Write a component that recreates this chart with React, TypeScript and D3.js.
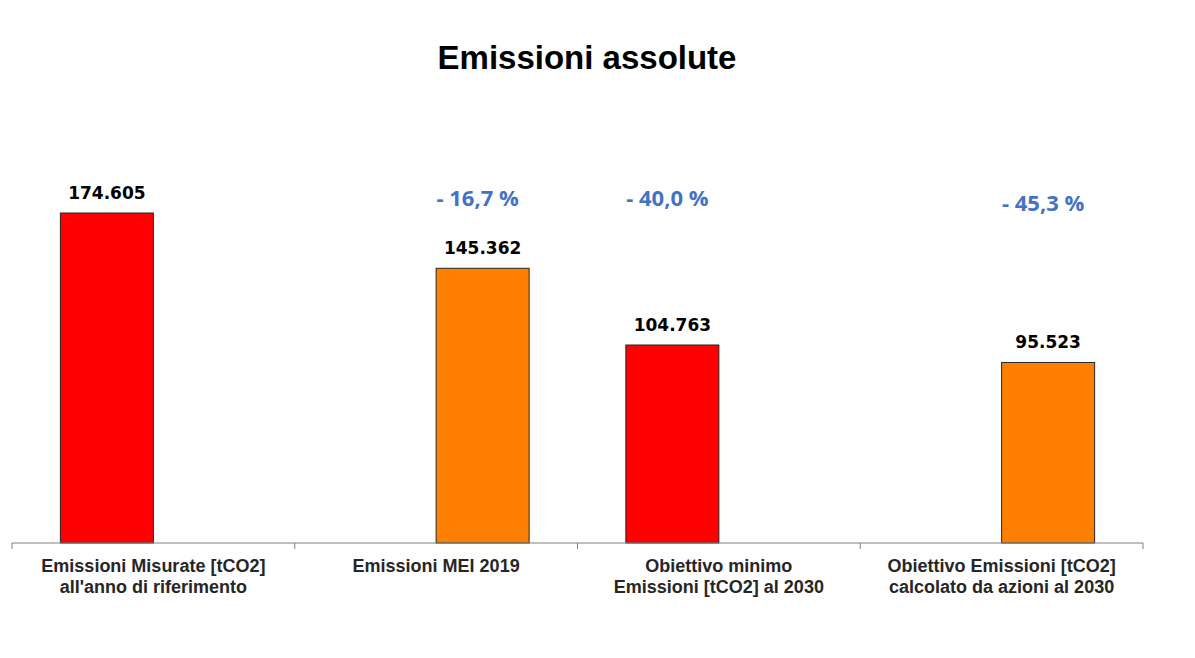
import React from "react";
import * as d3 from "d3";

const categories = [
  ["Emissioni Misurate [tCO2]", "all'anno di riferimento"],
  ["Emissioni MEI 2019"],
  ["Obiettivo minimo", "Emissioni [tCO2] al 2030"],
  ["Obiettivo Emissioni [tCO2]", "calcolato da azioni al 2030"],
];
const categoryKeys = ["c1", "c2", "c3", "c4"];
const seriesKeys = ["red", "orange"];
const seriesColors = ["#FF0000", "#FF8000"];
const redValues: (number | null)[] = [174605, null, 104763, null];
const orangeValues: (number | null)[] = [null, 145362, null, 95523];
const percentLabels = [null, "- 16,7 %", "- 40,0 %", "- 45,3 %"];
const percentDy = [0, 0, 0, 5];

const W = 1195;
const H = 658;

const fmt = (v: number) => d3.format(",")(v).replace(/,/g, ".");

export default function App() {
  const x0 = d3.scaleBand<string>().domain(categoryKeys).range([12, 1143]).padding(0);
  const x1 = d3
    .scaleBand<string>()
    .domain(seriesKeys)
    .range([0, x0.bandwidth()])
    .paddingInner(0)
    .paddingOuter(0.52);
  const y = d3.scaleLinear().domain([0, 200000]).range([543, 165]);

  const series = [redValues, orangeValues];
  const bars: { x: number; y: number; w: number; h: number; color: string; v: number; i: number }[] = [];
  series.forEach((vals, si) => {
    vals.forEach((v, i) => {
      if (v == null) return;
      const bx = (x0(categoryKeys[i]) as number) + (x1(seriesKeys[si]) as number);
      bars.push({ x: bx, y: y(v), w: x1.bandwidth(), h: y(0) - y(v), color: seriesColors[si], v, i });
    });
  });

  const ticks = [...categoryKeys.map((k) => x0(k) as number), 1143];

  return (
    <svg width={W} height={H} style={{ position: "absolute", left: 0, top: 0, background: "#fff" }}>
      <text
        x={587}
        y={69}
        textAnchor="middle"
        fontFamily="'Liberation Sans', Arial, sans-serif"
        fontWeight="bold"
        fontSize={33}
        fill="#000"
      >
        Emissioni assolute
      </text>
      {bars.map((b, k) => (
        <g key={k}>
          <rect x={b.x} y={b.y} width={b.w} height={b.h} fill={b.color} stroke="#262626" strokeWidth={1} />
          <text
            x={b.x + b.w / 2}
            y={b.y - 14}
            textAnchor="middle"
            fontFamily="'DejaVu Sans', sans-serif"
            fontWeight="bold"
            fontSize={17}
            fill="#000"
          >
            {fmt(b.v)}
          </text>
          {percentLabels[b.i] && (
            <text
              x={b.x + b.w / 2 - 5}
              y={y(0) - 337 + percentDy[b.i]}
              textAnchor="middle"
              fontFamily="'Open Sans', sans-serif"
              fontWeight="bold"
              fontSize={22}
              fill="#4472C4"
            >
              {percentLabels[b.i]}
            </text>
          )}
        </g>
      ))}
      <line x1={12} x2={1143} y1={y(0)} y2={y(0)} stroke="#808080" strokeWidth={1} />
      {ticks.map((t, k) => (
        <line key={k} x1={t} x2={t} y1={y(0)} y2={y(0) + 6} stroke="#808080" strokeWidth={1} />
      ))}
      {categories.map((lines, i) => (
        <text
          key={i}
          x={(x0(categoryKeys[i]) as number) + x0.bandwidth() / 2}
          y={572}
          textAnchor="middle"
          fontFamily="'Liberation Sans', Arial, sans-serif"
          fontWeight="bold"
          fontSize={18}
          fill="#262626"
        >
          {lines.map((l, j) => (
            <tspan key={j} x={(x0(categoryKeys[i]) as number) + x0.bandwidth() / 2} dy={j === 0 ? 0 : 21}>
              {l}
            </tspan>
          ))}
        </text>
      ))}
    </svg>
  );
}
